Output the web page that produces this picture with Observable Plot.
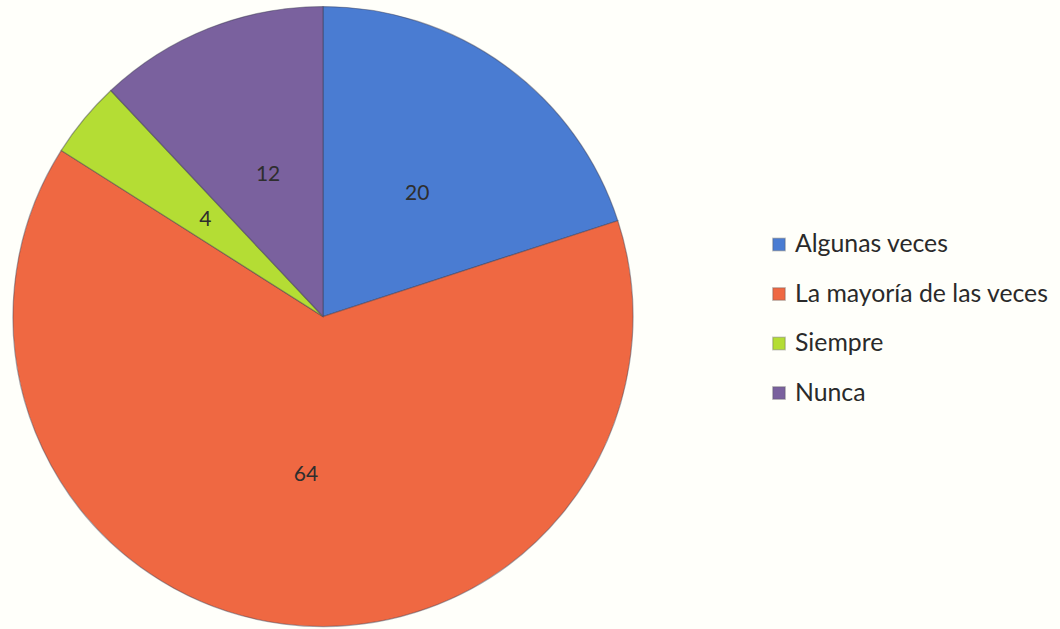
<!DOCTYPE html>
<html>
<head>
<meta charset="utf-8">
<script src="https://cdn.jsdelivr.net/npm/d3@7"></script>
<script src="https://cdn.jsdelivr.net/npm/@observablehq/plot@0.6"></script>
<style>
  html, body { margin: 0; padding: 0; background: #fffffa; }
  svg { display: block; }
</style>
</head>
<body>
<div id="chart"></div>
<script>
const categories = ["Algunas veces", "La mayoría de las veces", "Siempre", "Nunca"];
const values = [20, 64, 4, 12];
const colors = ["#4a7cd2", "#ef6842", "#b4dd34", "#7a619e"];

const W = 1060, H = 629;
const cx = 323, cy = 316.5, R = 310, labelR = 156;
const labelShiftX = 2.5, labelShiftY = 2;

const data = categories.map((c, i) => ({category: c, value: values[i], color: colors[i]}));
const arcs = d3.pie().sort(null).value(d => d.value)(data);

const legendX = 778.5, legendY0 = 244, legendStep = 49.5;
const legend = data.map((d, i) => ({...d, lx: legendX, ly: legendY0 + i * legendStep}));

function pieMark(index, scales) {
  const g = d3.create("svg:g")
    .attr("transform", `translate(${scales.x(cx)},${scales.y(cy)})`);
  const arc = d3.arc().innerRadius(0).outerRadius(R);
  g.selectAll("path").data(arcs).join("path")
    .attr("d", arc)
    .attr("fill", d => d.data.color)
    .attr("stroke", "#3b3b50")
    .attr("stroke-opacity", 0.45)
    .attr("stroke-width", 1.2);
  const la = d3.arc().innerRadius(labelR).outerRadius(labelR);
  g.selectAll("text").data(arcs).join("text")
    .attr("transform", d => {
      const [x, y] = la.centroid(d);
      return `translate(${x + labelShiftX},${y + labelShiftY})`;
    })
    .attr("text-anchor", "middle")
    .attr("dy", "0.35em")
    .attr("font-family", "Lato, 'Open Sans', sans-serif")
    .attr("font-size", 21)
    .attr("fill", "#2e2e2e")
    .text(d => d.data.value);
  return g.node();
}

const chart = Plot.plot({
  width: W,
  height: H,
  margin: 0,
  x: {domain: [0, W], range: [0, W], axis: null},
  y: {domain: [0, H], range: [0, H], axis: null},
  style: {background: "#fffffa"},
  marks: [
    pieMark,
    Plot.dot(legend, {x: "lx", y: "ly", symbol: "square", r: 7, fill: "color", stroke: "#555", strokeOpacity: 0.3}),
    Plot.text(legend, {x: d => d.lx + 16, y: "ly", text: "category", textAnchor: "start", fontSize: 24.8, fill: "#2a2a2a", fontFamily: "Lato, 'Open Sans', sans-serif"})
  ]
});
document.getElementById("chart").appendChild(chart);
</script>
</body>
</html>
